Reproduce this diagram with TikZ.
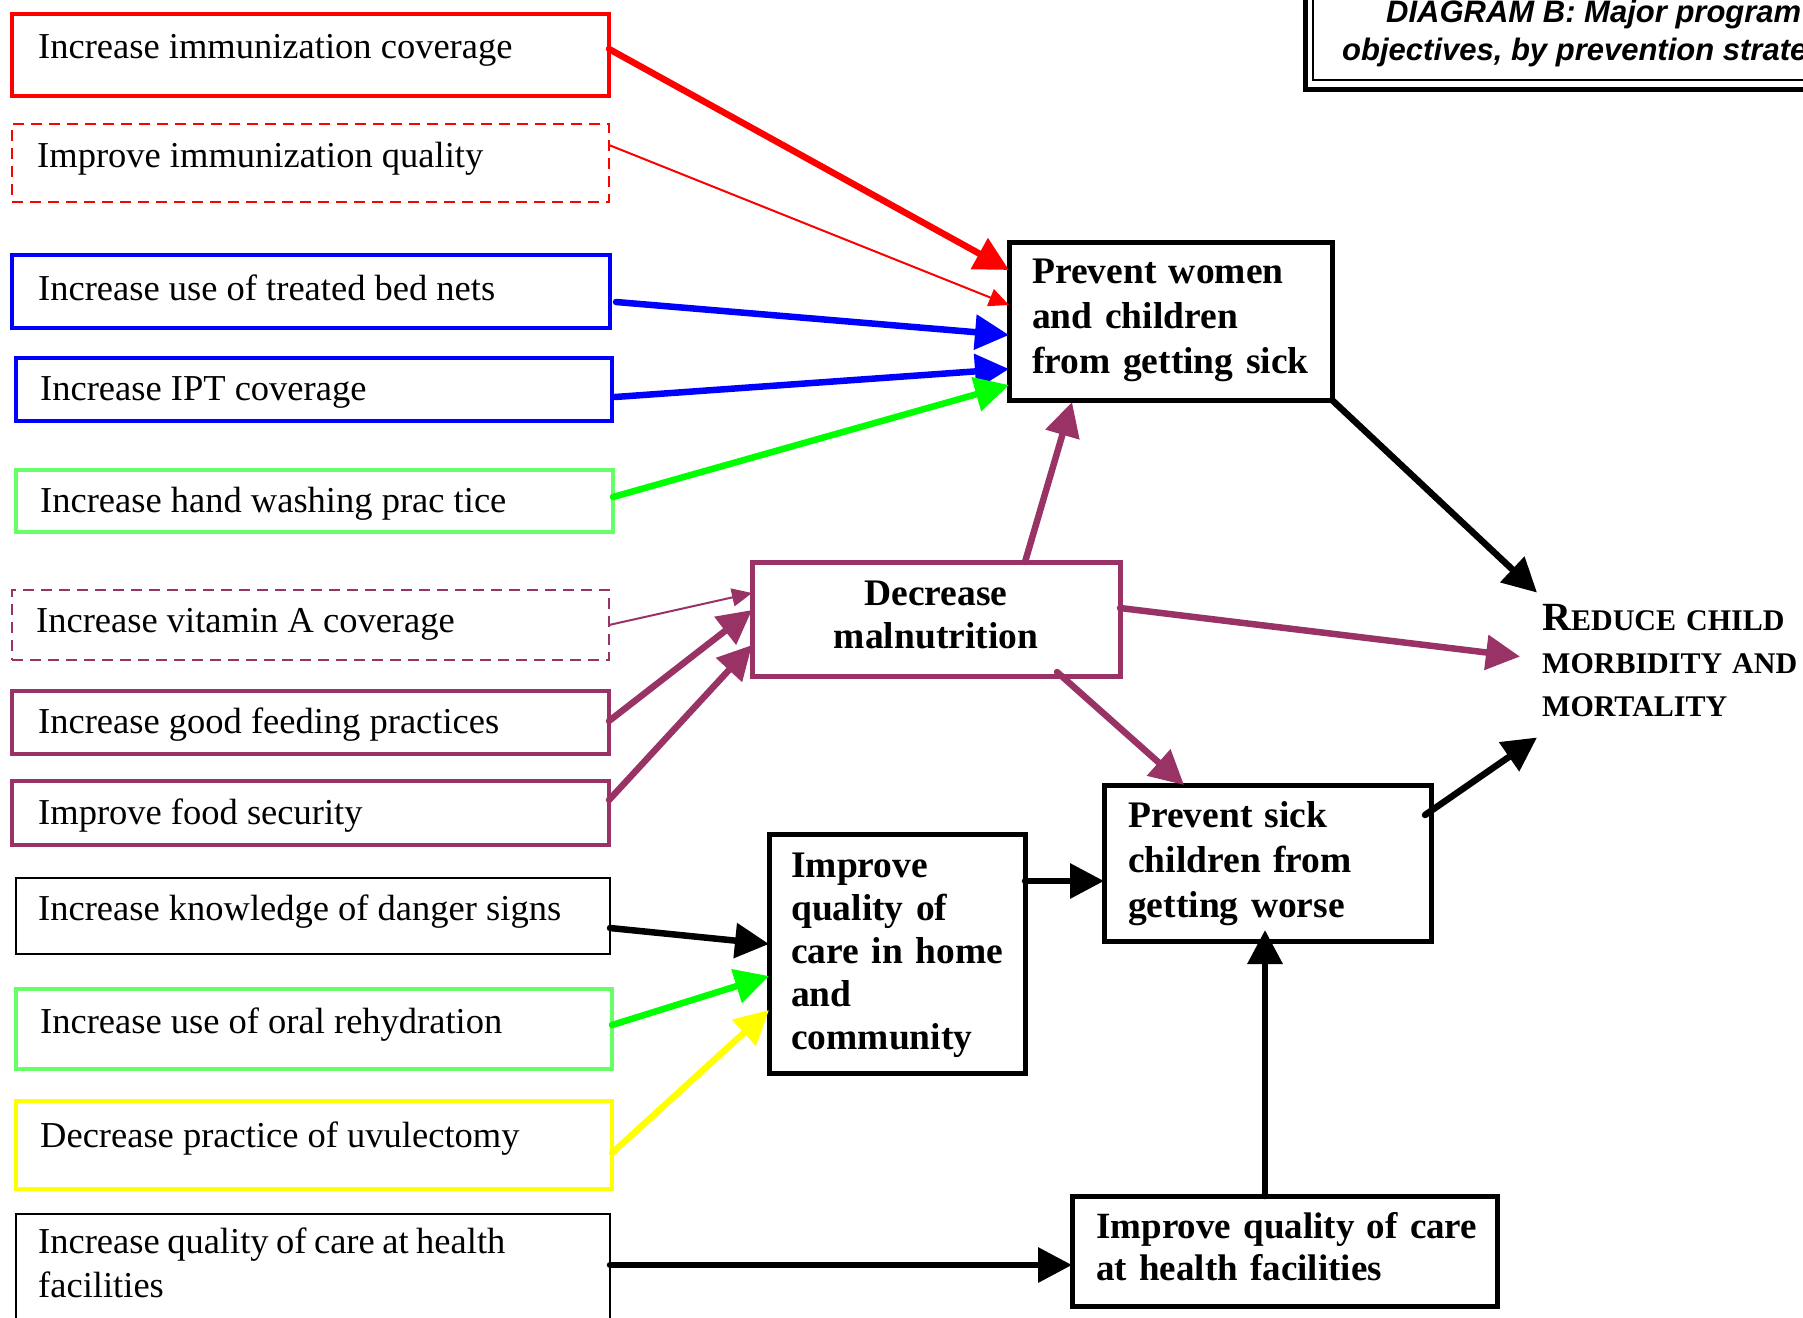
\documentclass[tikz,border=0pt]{standalone}
\usepackage{fontspec}
\setmainfont{Liberation Serif}
\newfontfamily\titlefont{Liberation Sans}
\usetikzlibrary{arrows.meta,calc}
\definecolor{plum}{HTML}{993366}
\definecolor{lgreen}{HTML}{66FF66}
\definecolor{vgreen}{HTML}{00FF00}
\definecolor{vyellow}{HTML}{FFFF00}
\begin{document}
\begin{tikzpicture}[x=1pt,y=-1pt,
  box/.style={draw, rectangle, inner sep=0pt, outer sep=0pt, anchor=north west},
  thickbox/.style={box, line width=4.5pt},
  bigbox/.style={box, line width=5pt},
  thinbox/.style={box, line width=2pt},
  dashbox/.style={box, line width=2pt, dash pattern=on 11pt off 7pt},
  lbl/.style={anchor=base west, inner sep=0pt, font=\fontsize{36.5}{44}\selectfont},
  blbl/.style={anchor=base west, inner sep=0pt, align=left, font=\bfseries\fontsize{37.5}{45}\selectfont},
  titletext/.style={anchor=base west, inner sep=0pt, font=\titlefont\bfseries\itshape\fontsize{31}{36}\selectfont},
  arr/.style={line width=6.5pt, line cap=round, -{Triangle[length=34pt,width=34pt]}},
  thinarr/.style={line width=2pt, line cap=round, -{Triangle[length=20pt,width=18pt]}}]
\useasboundingbox (0,0) rectangle (1803,1317);
\fill[white] (0,0) rectangle (1803,1317);
\clip (0,0) rectangle (1803,1317);

% title frame (double border, running off the page)
\draw[line width=5pt] (1305,-40) rectangle (1900,89);
\draw[line width=2pt] (1312.5,-40) rectangle (1900,79.5);
\node[titletext] (t1) at (1386,22) {DIAGRAM B: Major program};
\node[titletext] (t2) at (1342,60) {objectives, by prevention strategy};

% left column: program objectives
\node[thickbox, draw=red, minimum width=597pt, minimum height=82pt] (b1) at (12,14) {};
\node[lbl] (b1t) at (38,58) {Increase immunization coverage};
\node[dashbox, draw=red, minimum width=597pt, minimum height=78pt] (b2) at (12,124) {};
\node[lbl] (b2t) at (37,167) {Improve immunization quality};
\node[thickbox, draw=blue, minimum width=598pt, minimum height=73pt] (b3) at (12,255) {};
\node[lbl] (b3t) at (38,300) {Increase use of treated bed nets};
\node[thickbox, draw=blue, minimum width=596pt, minimum height=63pt] (b4) at (16,358) {};
\node[lbl] (b4t) at (40,400) {Increase IPT coverage};
\node[thickbox, draw=lgreen, minimum width=597pt, minimum height=62pt] (b5) at (16,470) {};
\node[lbl] (b5t) at (40,512) {Increase hand washing prac tice};
\node[dashbox, draw=plum, minimum width=597pt, minimum height=70pt] (b6) at (12,590) {};
\node[lbl] (b6t) at (36,632) {Increase vitamin A coverage};
\node[thickbox, draw=plum, minimum width=597pt, minimum height=63pt] (b7) at (12,691) {};
\node[lbl] (b7t) at (38,733) {Increase good feeding practices};
\node[thickbox, draw=plum, minimum width=597pt, minimum height=64pt] (b8) at (12,781) {};
\node[lbl] (b8t) at (38,824) {Improve food security};
\node[thinbox, draw=black, minimum width=594pt, minimum height=76pt] (b9) at (16,878) {};
\node[lbl] (b9t) at (38,920) {Increase knowledge of danger signs};
\node[thickbox, draw=lgreen, minimum width=596pt, minimum height=80pt] (b10) at (16,989) {};
\node[lbl] (b10t) at (40,1033) {Increase use of oral rehydration};
\node[thickbox, draw=vyellow, minimum width=596pt, minimum height=88pt] (b11) at (16,1101) {};
\node[lbl] (b11t) at (40,1147) {Decrease practice of uvulectomy};
\node[thinbox, draw=black, minimum width=594pt, minimum height=130pt] (b12) at (16,1214) {};
\node[lbl, text width=560pt, align=left] (b12t) at (38,1253) {\spaceskip=7.5pt Increase quality of care at health\\facilities};

% strategy boxes
\node[bigbox, minimum width=323pt, minimum height=158pt] (A) at (1009,242) {};
\node[blbl, text width=300pt] (At) at (1032,283) {Prevent women\\and children\\from getting sick};
\node[bigbox, draw=plum, minimum width=368pt, minimum height=114pt] (B) at (752,562) {};
\node[anchor=base, inner sep=0pt, text width=360pt, align=center, font=\bfseries\fontsize{37.5}{43}\selectfont] (Bt) at (936,605) {Decrease\\malnutrition};
\node[bigbox, minimum width=256pt, minimum height=239pt] (C) at (769,834) {};
\node[blbl, text width=230pt, font=\bfseries\fontsize{37.5}{43}\selectfont] (Ct) at (791,877) {Improve\\quality of\\care in home\\and\\community};
\node[bigbox, minimum width=327pt, minimum height=156pt] (D) at (1104,785) {};
\node[blbl, text width=300pt] (Dt) at (1128,827) {Prevent sick\\children from\\getting worse};
\node[bigbox, minimum width=425pt, minimum height=110pt] (E) at (1072,1196) {};
\node[blbl, text width=400pt, font=\bfseries\fontsize{37}{42}\selectfont] (Et) at (1096,1238) {Improve quality of care\\at health facilities};

% overall goal
\node[anchor=base west, inner sep=0pt, text width=265pt, align=left, font=\bfseries\fontsize{30}{43}\selectfont] (goal) at (1542,630) {{\fontsize{40}{43}\selectfont R}EDUCE CHILD\\MORBIDITY AND\\MORTALITY};

% connectors into "Prevent women and children"
\draw[arr, red] ([yshift=6pt]b1.east) -- ([yshift=51pt]A.west);
\draw[thinarr, red] ([yshift=18pt]b2.east) -- ([yshift=16pt]A.west);
\draw[arr, blue] ([xshift=6pt,yshift=-10.5pt]b3.east) -- ([yshift=-14pt]A.west);
\draw[arr, blue] ([xshift=3pt,yshift=-7.5pt]b4.east) -- ([yshift=-48pt]A.west);
\draw[arr, vgreen] ([yshift=4pt]b5.east) -- ([yshift=-64pt]A.west);

% connectors into "Decrease malnutrition"
\draw[thinarr, plum] (b6.east) -- ([yshift=26pt]B.west);
\draw[arr, plum] ([yshift=1.5pt]b7.east) -- ([yshift=9pt]B.west);
\draw[arr, plum] ([yshift=13pt]b8.east) -- ([yshift=-26pt]B.west);

% connectors into home and community care
\draw[arr, black] ([yshift=-12pt]b9.east) -- ([yshift=9.5pt]C.west);
\draw[arr, vgreen] ([yshift=4pt]b10.east) -- ([yshift=-22.5pt]C.west);
\draw[arr, vyellow] ([yshift=-8pt]b11.east) -- ([yshift=-56.5pt]C.west);

% connector into facility care
\draw[arr, black] ([yshift=-51pt]b12.north east) -- ([yshift=-14pt]E.west);

% links between strategies
\draw[arr, plum] ([xshift=89pt]B.north) -- ([xshift=-98.5pt,yshift=-2pt]A.south);
\draw[arr, plum] ([xshift=121pt,yshift=4pt]B.south) -- ([xshift=-83.5pt]D.north);
\draw[arr, black] ([yshift=72.5pt]C.east) -- ([yshift=-18pt]D.west);
\draw[arr, black] ([xshift=-19.5pt]E.north) -- ([xshift=-2.5pt,yshift=11pt]D.south);

% links to the overall goal
\draw[arr, black] (A.south east) -- ([xshift=-5pt,yshift=11pt]goal.north west);
\draw[arr, plum] ([yshift=11pt]B.east) -- ([xshift=-22pt,yshift=3.5pt]goal.west);
\draw[arr, black] ([xshift=-6pt,yshift=48pt]D.east) -- ([xshift=-5pt,yshift=-21pt]goal.south west);
\end{tikzpicture}
\end{document}
